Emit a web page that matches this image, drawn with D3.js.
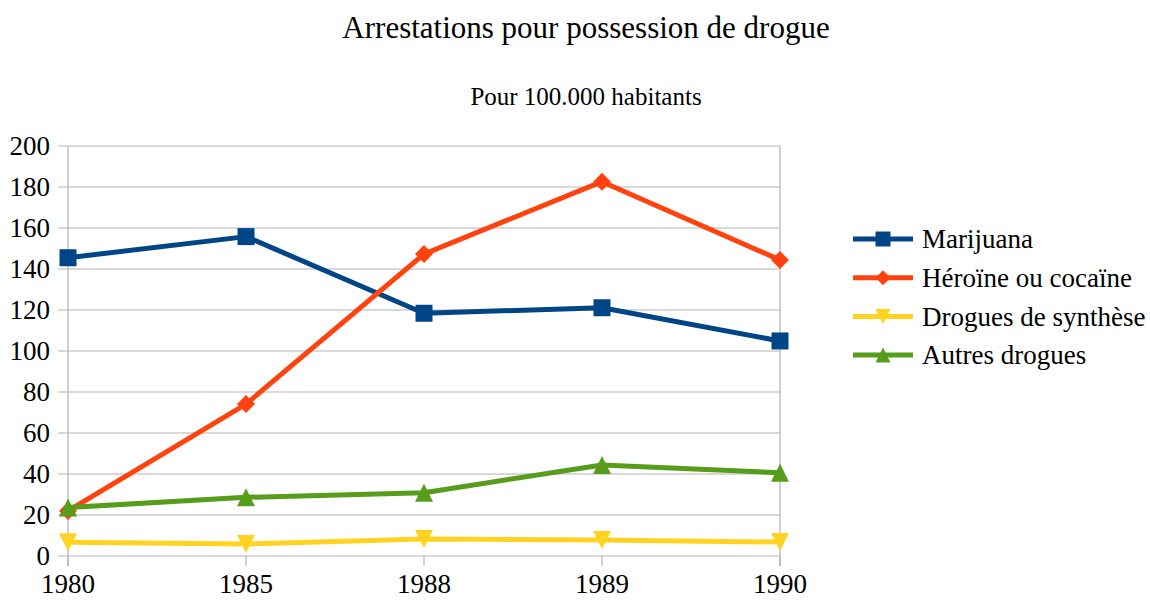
<!DOCTYPE html>
<html>
<head>
<meta charset="utf-8">
<script src="https://cdn.jsdelivr.net/npm/d3@7"></script>
<style>
  body { margin: 0; background: #fff; }
</style>
</head>
<body>
<div id="chart"></div>
<script>
// categories and series
const years = ["1980", "1985", "1988", "1989", "1990"];
const marijuana = [145.5, 155.8, 118.4, 121.1, 104.9];
const heroine = [22, 74.1, 147.3, 182.6, 144.4];
const synthese = [6.7, 5.9, 8.3, 7.8, 6.8];
const autres = [23.6, 28.6, 30.9, 44.4, 40.6];
const yTicks = [0, 20, 40, 60, 80, 100, 120, 140, 160, 180, 200];

// custom marker shapes (size = side length in px)
const square = { draw(c, s) { const h = s / 2; c.rect(-h, -h, s, s); } };
const diamond = { draw(c, s) { const h = s / 2; c.moveTo(0, -h); c.lineTo(h, 0); c.lineTo(0, h); c.lineTo(-h, 0); c.closePath(); } };
const triDown = { draw(c, s) { const h = s / 2; c.moveTo(-h, -h); c.lineTo(h, -h); c.lineTo(0, h); c.closePath(); } };
const triUp = { draw(c, s) { const h = s / 2; c.moveTo(-h, h); c.lineTo(h, h); c.lineTo(0, -h); c.closePath(); } };

const series = [
  { name: "Marijuana", values: marijuana, color: "#004586", shape: square, size: 17 },
  { name: "Héroïne ou cocaïne", values: heroine, color: "#ff420e", shape: diamond, size: 18 },
  { name: "Drogues de synthèse", values: synthese, color: "#ffd320", shape: triDown, size: 18 },
  { name: "Autres drogues", values: autres, color: "#579d1c", shape: triUp, size: 18 }
];

const W = 1150, H = 600;
const svg = d3.select("#chart").append("svg")
    .attr("width", W)
    .attr("height", H)
    .style("font-family", "'Liberation Serif'");

const x = d3.scalePoint().domain(years).range([68, 780]);
const y = d3.scaleLinear().domain([0, 200]).range([556, 146]);
const grid = "#b3b3b3";

// titles
svg.append("text")
    .attr("x", 586).attr("y", 38)
    .attr("text-anchor", "middle")
    .style("font-size", "31px")
    .text("Arrestations pour possession de drogue");
svg.append("text")
    .attr("x", 586).attr("y", 105)
    .attr("text-anchor", "middle")
    .style("font-size", "25px")
    .text("Pour 100.000 habitants");

// horizontal gridlines + y ticks
svg.append("g").selectAll("line")
    .data(yTicks)
    .enter().append("line")
    .attr("x1", 58).attr("x2", 780)
    .attr("y1", d => y(d)).attr("y2", d => y(d))
    .attr("stroke", grid).attr("stroke-width", 1.2);

svg.append("g").selectAll("text")
    .data(yTicks)
    .enter().append("text")
    .attr("x", 50).attr("y", d => y(d))
    .attr("text-anchor", "end")
    .attr("dy", "0.34em")
    .style("font-size", "27px")
    .text(d => d);

// axis lines
svg.append("line")
    .attr("x1", 68).attr("x2", 68).attr("y1", 146).attr("y2", 566)
    .attr("stroke", grid).attr("stroke-width", 1.2);
svg.append("line")
    .attr("x1", 780).attr("x2", 780).attr("y1", 146).attr("y2", 566)
    .attr("stroke", grid).attr("stroke-width", 1.2);

// x ticks
svg.append("g").selectAll("line")
    .data(years)
    .enter().append("line")
    .attr("x1", d => x(d)).attr("x2", d => x(d))
    .attr("y1", 556).attr("y2", 566)
    .attr("stroke", grid).attr("stroke-width", 1.2);

svg.append("g").selectAll("text")
    .data(years)
    .enter().append("text")
    .attr("x", d => x(d)).attr("y", 593)
    .attr("text-anchor", "middle")
    .style("font-size", "27px")
    .text(d => d);

// lines + markers
const line = d3.line()
    .x((d, i) => x(years[i]))
    .y(d => y(d));

series.forEach(s => {
  svg.append("path")
      .datum(s.values)
      .attr("d", line)
      .attr("fill", "none")
      .attr("stroke", s.color)
      .attr("stroke-width", 5)
      .attr("stroke-linejoin", "round");
  svg.append("g").selectAll("path")
      .data(s.values)
      .enter().append("path")
      .attr("transform", (d, i) => `translate(${x(years[i])},${y(d)})`)
      .attr("d", d3.symbol().type(s.shape).size(s.size))
      .attr("fill", s.color);
});

// legend
const legend = svg.append("g");
series.forEach((s, i) => {
  const ly = 239 + i * 38.7;
  legend.append("line")
      .attr("x1", 853).attr("x2", 913)
      .attr("y1", ly).attr("y2", ly)
      .attr("stroke", s.color).attr("stroke-width", 5);
  legend.append("path")
      .attr("transform", `translate(883,${ly})`)
      .attr("d", d3.symbol().type(s.shape).size(15))
      .attr("fill", s.color);
  legend.append("text")
      .attr("x", 922).attr("y", ly)
      .attr("dy", "0.34em")
      .style("font-size", "27px")
      .text(s.name);
});
</script>
</body>
</html>
